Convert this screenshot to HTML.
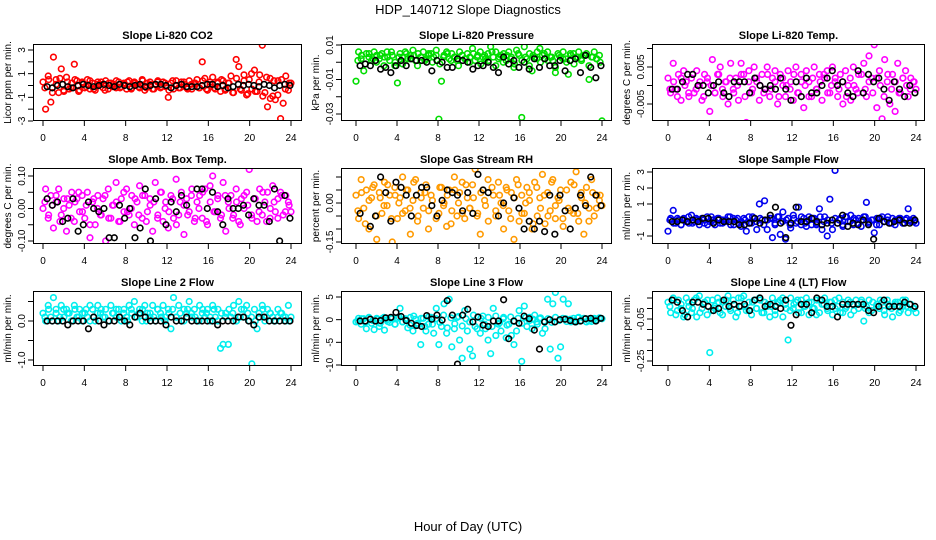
<!DOCTYPE html>
<html><head><meta charset="utf-8"><style>
html,body{margin:0;padding:0;background:#fff;}
svg{display:block;font-family:"Liberation Sans",Arial,sans-serif;}
</style></head><body>
<svg id="chart" width="936" height="540" viewBox="0 0 936 540">
<text x="468" y="14" text-anchor="middle" font-size="13">HDP_140712  Slope Diagnostics</text>
<text x="468" y="531" text-anchor="middle" font-size="13">Hour of Day (UTC)</text>
</svg>
<script>
const xTicks=[0,4,8,12,16,20,24];
const p1Title="Slope Li-820 CO2", p1Y="Licor ppm per min.";
const p1Color=[0.3,-2.0,0.8,-1.4,2.4,0.5,-0.6,1.4,-0.5,0.7,-0.3,0.2,1.8,0.4,-0.4,0.3,-0.2,0.5,-0.3,0.2,-0.4,0.3,0.1,-0.2,0.4,-0.3,0.2,0.1,-0.2,0.3,-0.1,0.2,-0.3,0.4,-0.2,0.3,0.1,-0.2,0.5,-0.4,0.2,0.3,-0.3,0.1,0.4,-0.2,0.3,-0.1,-1.0,0.2,-0.3,0.4,-0.2,0.3,0.1,-0.2,0.4,-0.3,0.2,0.5,-0.2,2.0,0.6,-0.4,0.3,0.7,-0.3,0.2,-0.5,0.4,-0.3,0.2,0.8,-0.6,2.2,1.6,-0.4,0.9,-0.8,0.5,-0.3,1.3,-0.5,0.9,3.4,-0.6,-1.8,0.6,-0.9,-1.2,0.4,-2.8,-1.5,0.8,-0.4,0.2];
const p1Color2=[-0.2,0.5,-0.6,0.1,0.6,-0.4,0.3,-0.2,0.5,-0.5,0.2,-0.1,0.4,-0.3,0.1,0.3,-0.4,0.2,-0.1,0.4,-0.2,0.1,0.3,-0.3,0.2,-0.1,0.4,-0.2,0.1,-0.3,0.3,-0.1,0.2,-0.4,0.4,0.0,-0.2,0.3,-0.3,0.1,0.2,-0.2,0.4,-0.3,0.1,-0.2,0.3,0.5,-0.4,0.2,-0.6,0.6,-0.3,0.4,-0.7,1.0,-0.5,0.3,-0.9,0.7,-1.1,0.4,-0.8,0.5,-0.3,0.2];
const p1Black=[-0.1,-0.2,0.0,0.1,-0.1,-0.2,0.0,0.1,0.0,-0.1,0.0,0.1,0.0,-0.1,0.1,0.0,-0.1,0.0,0.1,-0.1,0.0,0.1,0.1,0.0,-0.2,0.0,0.1,-0.1,-0.1,-0.1,0.0,0.1,0.1,-0.1,0.0,-0.2,-0.1,0.1,0.0,0.1,0.0,-0.1,0.1,0.0,-0.2,0.0,0.1,0.0];
const p1Ticks=[3,2,1,0,-1,-2,-3], p1Labels=["3","","1","","-1","","-3"];

const p2Title="Slope Li-820 Pressure", p2Y="kPa per min.";
const p2Color=[-0.011,0.006,0.002,-0.005,0.005,0.003,0.001,0.006,0.004,0.002,0.005,0.003,0.006,0.001,0.004,-0.002,-0.012,0.005,0.003,0.006,0.002,0.004,0.007,0.001,0.005,0.003,0.006,0.002,0.004,0.005,0.003,0.007,-0.033,-0.011,0.004,0.006,0.002,0.005,0.003,0.001,0.006,0.004,0.002,0.005,0.003,0.008,0.001,0.004,0.006,0.003,0.002,0.005,0.009,0.003,0.006,0.002,0.004,0.005,0.001,0.006,0.003,-0.003,0.007,0.004,-0.032,0.009,0.002,0.005,-0.005,0.003,0.006,0.008,0.004,0.002,0.006,0.003,0.001,-0.006,0.005,0.003,0.006,0.002,-0.007,0.004,0.005,0.003,0.006,0.002,0.004,0.005,-0.010,0.003,0.006,0.002,0.004,-0.034];
const p2Color2=[0.001,0.004,-0.001,0.005,0.002,0.000,0.004,-0.002,0.003,0.006,0.000,0.003,-0.001,0.005,0.002,0.004,-0.002,0.003,0.001,0.005,0.000,0.004,-0.001,0.003,0.005,0.001,0.003,-0.002,0.004,0.002,0.000,0.005,0.003,-0.001,0.004,0.001,0.006,-0.002,0.003,0.000,0.004,0.002,-0.001,0.005,0.001,0.003,-0.002,0.004,0.002,0.000,0.005,0.001,0.003,-0.003,0.004,0.002,0.000,0.005,-0.001,0.003,0.001,0.004,-0.002,0.003,0.002,0.000];
const p2Black=[-0.002,-0.001,-0.002,0.001,-0.004,-0.003,-0.006,-0.002,0.001,-0.002,0.002,0.001,0.001,0.000,-0.005,0.001,0.000,-0.003,-0.003,0.002,0.001,0.000,-0.004,-0.002,-0.002,0.000,-0.003,-0.006,0.003,-0.001,0.001,-0.003,0.000,-0.004,0.002,-0.003,0.002,-0.002,-0.002,0.001,-0.005,0.001,0.002,-0.006,0.004,-0.003,-0.009,-0.002];
const p2Ticks=[0.01,0,-0.01,-0.02,-0.03], p2Labels=["0.01","","-0.01","","-0.03"];

const p3Title="Slope Li-820 Temp.", p3Y="degrees C per min.";
const p3Color=[0.002,-0.002,0.006,-0.001,0.003,-0.004,0.004,0.001,-0.003,0.002,-0.002,0.004,0.000,-0.004,0.003,0.001,-0.007,0.007,-0.002,0.003,0.005,-0.003,0.001,-0.005,0.006,-0.001,0.002,-0.004,0.006,0.003,-0.010,0.004,-0.002,0.005,0.001,-0.004,0.003,-0.001,0.005,-0.003,0.002,0.004,-0.005,0.003,0.000,-0.003,0.004,0.001,-0.004,0.005,-0.002,0.003,-0.006,0.004,0.001,-0.003,0.005,-0.001,0.003,-0.004,0.002,0.004,-0.002,0.005,0.001,-0.003,0.003,-0.005,0.004,0.000,-0.004,0.005,-0.001,0.003,-0.012,0.006,-0.003,0.008,0.002,0.011,-0.006,0.004,-0.009,0.007,0.001,-0.005,0.003,-0.007,0.006,-0.002,0.002,0.004,-0.003,0.002,0.001,-0.001];
const p3Color2=[-0.001,0.001,-0.003,0.002,0.000,-0.002,0.003,-0.001,0.001,-0.003,0.002,0.000,-0.002,0.003,-0.001,0.001,0.002,-0.002,0.000,0.003,-0.003,0.001,-0.001,0.002,0.000,-0.002,0.003,-0.001,0.001,-0.003,0.002,0.000,-0.001,0.003,-0.002,0.001,0.000,-0.003,0.002,-0.001,0.001,0.003,-0.002,0.000,0.002,-0.001,0.001,-0.003,0.002,0.000,-0.002,0.003,-0.001,0.001,-0.002,0.002,0.000,-0.003,0.003,-0.001,0.001,-0.002,0.002,0.000,-0.001,0.001];
const p3Black=[-0.001,-0.001,0.001,0.003,0.003,0.000,0.000,-0.002,0.000,0.001,-0.002,-0.003,0.001,0.001,0.001,-0.002,0.002,0.000,-0.001,0.000,-0.001,0.002,-0.001,-0.004,0.001,-0.003,0.002,-0.002,-0.002,0.000,0.002,0.004,0.000,0.001,-0.002,-0.003,0.004,-0.002,0.003,0.001,0.002,-0.001,-0.004,0.001,-0.001,-0.003,0.000,-0.002];
const p3Ticks=[0.01,0.005,0,-0.005], p3Labels=["","0.005","","-0.005"];

const p4Title="Slope Amb. Box Temp.", p4Y="degrees C per min.";
const p4Color=[0.00,0.06,-0.03,0.04,-0.06,0.02,0.06,-0.02,0.03,-0.07,0.01,0.05,-0.04,0.03,-0.01,0.04,-0.03,0.05,-0.09,0.02,-0.05,0.04,-0.02,0.03,-0.10,0.06,-0.03,0.01,0.08,-0.04,0.03,-0.01,0.06,-0.02,0.04,-0.05,0.02,0.07,-0.03,0.04,-0.01,0.03,-0.07,0.08,-0.02,0.05,-0.04,0.02,-0.06,0.04,-0.03,0.09,-0.02,0.05,-0.08,0.03,-0.01,0.06,-0.04,0.02,0.04,-0.03,0.06,-0.05,0.07,0.10,-0.01,0.04,-0.03,0.08,-0.07,0.02,0.04,-0.02,0.06,-0.04,0.03,0.00,0.05,0.12,-0.03,0.03,-0.04,0.06,-0.02,0.02,0.05,-0.03,0.07,-0.01,0.03,0.05,-0.02,0.04,0.02,-0.01];
const p4Color2=[0.02,-0.02,0.01,0.04,-0.04,0.00,0.03,-0.03,0.02,0.05,-0.01,0.01,-0.05,0.03,0.00,-0.02,0.04,-0.03,0.01,0.02,-0.04,0.05,-0.01,0.00,0.03,-0.02,0.04,-0.04,0.01,0.02,-0.03,0.05,0.00,-0.01,0.03,-0.05,0.02,0.01,-0.02,0.04,-0.03,0.00,0.05,-0.04,0.02,-0.01,0.03,-0.02,0.04,0.00,-0.03,0.02,-0.05,0.04,0.01,-0.02,0.03,-0.01,0.05,-0.04,0.00,0.02,-0.03,0.04,-0.01,0.01];
const p4Black=[0.03,0.01,0.02,-0.04,-0.03,0.03,-0.07,-0.05,0.02,0.00,-0.01,0.00,-0.09,-0.09,0.01,-0.03,0.00,-0.09,-0.06,0.06,-0.10,0.03,-0.13,-0.05,0.02,-0.01,0.04,0.01,-0.13,0.06,0.06,0.00,0.05,-0.01,-0.05,0.03,0.00,0.00,0.01,-0.02,0.03,0.01,0.01,-0.04,0.06,-0.10,0.04,-0.03];
const p4Ticks=[0.10,0.05,0,-0.05,-0.10], p4Labels=["0.10","","0.00","","-0.10"];

const p5Title="Slope Gas Stream RH", p5Y="percent per min.";
const p5Color=[0.03,-0.06,0.09,-0.02,0.05,-0.10,0.02,0.07,-0.14,0.04,-0.04,0.08,-0.01,0.03,-0.15,0.06,-0.06,0.02,0.10,-0.03,0.05,-0.12,0.01,0.09,-0.05,0.04,-0.02,0.07,-0.10,0.03,0.22,-0.21,-0.04,0.06,0.00,-0.09,0.05,-0.03,0.10,-0.05,0.04,0.08,-0.06,0.02,-0.02,0.07,0.13,-0.04,-0.12,0.05,-0.01,0.09,-0.17,0.03,-0.05,0.08,0.00,-0.10,0.06,-0.03,0.04,-0.14,0.09,-0.07,0.03,-0.04,0.06,0.01,-0.10,0.08,-0.05,0.02,0.11,-0.08,0.04,-0.03,0.09,-0.06,0.02,0.05,-0.09,0.15,-0.02,0.08,-0.04,0.12,-0.07,0.04,-0.12,0.06,-0.02,0.09,-0.05,0.03,0.01,-0.01];
const p5Color2=[-0.03,0.04,-0.08,0.01,0.06,-0.05,0.02,-0.01,0.07,-0.06,0.03,0.00,-0.04,0.05,-0.02,0.08,-0.07,0.02,0.04,-0.03,0.01,-0.06,0.06,-0.01,0.03,-0.08,0.05,0.00,-0.04,0.07,-0.02,0.02,-0.05,0.04,0.01,-0.07,0.06,-0.03,0.03,-0.01,0.05,-0.06,0.02,0.07,-0.04,0.00,0.04,-0.08,0.06,-0.02,0.03,-0.05,0.08,-0.01,0.01,-0.06,0.05,-0.03,0.07,-0.04,0.02,0.00,-0.07,0.04,-0.02,0.03];
const p5Black=[-0.04,0.17,-0.09,-0.05,0.10,0.04,-0.07,0.08,0.06,0.03,-0.05,0.03,0.06,0.06,-0.01,-0.05,0.01,0.05,0.04,0.03,-0.03,0.04,-0.04,0.11,0.05,0.04,0.24,-0.05,0.00,0.25,0.02,-0.02,-0.10,-0.07,-0.10,-0.07,-0.11,0.03,-0.12,0.03,-0.03,-0.10,-0.02,0.03,-0.01,0.10,0.03,-0.01];
const p5Ticks=[0.10,0.05,0,-0.05,-0.10,-0.15], p5Labels=["","","0.00","","","-0.15"];

const p6Title="Slope Sample Flow", p6Y="ml/min per min.";
const p6Color=[-0.7,0.1,0.6,-0.2,0.0,-0.3,0.1,-0.1,-0.2,0.3,-0.1,0.0,-0.3,0.1,-0.2,0.2,-0.1,0.0,-0.3,0.1,-0.2,0.0,-0.1,0.2,-0.3,0.1,0.0,-0.2,-0.4,0.1,-0.7,0.2,-0.2,0.1,-0.6,1.0,0.0,1.2,-0.6,0.1,-1.1,-0.3,0.2,-0.9,0.5,-1.2,0.1,-0.5,0.3,-0.2,0.8,-0.3,0.1,-0.4,0.2,-0.3,0.1,-0.2,0.7,-0.6,0.2,-1.0,1.3,-0.6,3.1,-0.2,0.1,-0.4,0.2,-0.1,0.3,-0.3,0.0,0.1,-0.4,0.2,1.1,-0.2,0.0,-0.8,0.1,-0.3,0.2,-0.1,0.0,-0.2,0.1,-0.3,0.0,0.1,-0.2,0.0,0.7,-0.1,0.1,-0.2];
const p6Color2=[0.0,-0.2,0.1,-0.3,0.0,0.2,-0.2,0.1,-0.1,0.0,-0.3,0.2,-0.1,0.1,-0.2,0.0,0.2,-0.3,0.1,-0.1,0.0,-0.2,0.2,-0.1,0.1,-0.3,0.0,0.1,-0.2,0.2,-0.1,0.0,-0.3,0.1,-0.1,0.2,-0.2,0.0,0.1,-0.3,0.2,-0.1,0.0,-0.2,0.1,0.0,-0.3,0.2,-0.1,0.1,-0.2,0.0,0.2,-0.1,0.0,-0.3,0.1,-0.1,0.2,-0.2,0.0,0.1,-0.2,0.1,0.0,-0.1];
const p6Black=[-0.1,-0.1,0.0,-0.1,0.0,-0.1,0.1,0.1,-0.2,0.0,-0.1,-0.1,-0.1,-0.3,-0.3,-0.2,0.1,-0.2,0.0,0.3,0.8,-0.2,-1.1,-0.2,0.8,-0.1,-0.1,0.1,-0.1,-0.3,-0.2,0.0,-0.2,0.3,-0.4,-0.2,-0.3,0.0,-0.3,-1.2,0.1,-0.1,-0.2,-0.1,0.0,-0.2,-0.2,0.0];
const p6Ticks=[3,2,1,0,-1], p6Labels=["3","2","1","","-1"];

const p7Title="Slope Line 2 Flow", p7Y="ml/min per min.";
const p7Color=[0.2,0.0,0.4,0.1,0.6,0.3,0.0,0.4,0.1,0.3,0.2,0.0,0.4,0.1,0.3,0.0,0.2,0.1,0.4,0.3,0.0,0.4,0.2,0.1,0.3,0.0,0.4,0.2,0.1,0.3,0.0,0.3,0.1,0.4,0.2,0.5,0.1,0.3,0.0,0.4,0.2,0.1,0.4,0.0,0.3,0.2,0.4,0.1,0.3,-0.2,0.6,0.1,0.4,0.0,0.3,0.2,0.5,0.1,0.3,0.0,0.4,0.2,0.1,0.3,0.0,0.4,0.1,0.3,-0.7,-0.6,0.2,-0.6,0.1,0.4,0.0,0.5,0.3,0.1,0.4,0.0,-1.1,0.3,-0.2,0.1,0.4,0.0,0.3,0.2,0.1,0.0,0.3,0.2,0.1,0.0,0.4,0.1];
const p7Color2=[0.1,0.3,0.0,0.2,0.1,0.3,0.2,0.0,0.3,0.1,0.2,0.3,0.0,0.1,0.2,0.3,0.1,0.0,0.2,0.3,0.1,0.2,0.0,0.3,0.1,0.2,0.3,0.0,0.2,0.1,0.3,0.1,0.0,0.2,0.3,0.1,0.2,0.0,0.3,0.2,0.1,0.0,0.3,0.2,0.1,0.3,0.0,0.2,0.1,0.3,0.2,0.0,0.1,0.3,0.2,0.1,0.0,0.2,0.3,0.1,0.2,0.0,0.1,0.2,0.1,0.0];
const p7Black=[0.0,0.0,0.0,0.0,-0.1,0.0,0.0,0.0,-0.2,0.1,0.0,-0.1,0.0,0.0,0.1,0.0,-0.1,0.1,0.2,0.1,0.0,0.0,0.0,-0.1,0.1,0.0,0.0,0.1,0.0,0.0,0.0,0.0,0.0,-0.1,0.0,0.0,0.0,0.1,0.1,0.0,-0.1,0.1,0.1,0.0,0.0,0.0,0.0,0.0];
const p7Ticks=[0.5,0,-0.5,-1.0], p7Labels=["","0.0","","-1.0"];

const p8Title="Slope Line 3 Flow", p8Y="ml/min per min.";
const p8Color=[-0.5,0.3,-1.0,0.2,-2.0,0.5,-0.8,-2.2,0.3,-1.5,0.2,-2.3,0.0,-0.6,0.4,-1.0,0.3,2.5,-0.5,0.2,-1.8,0.5,-2.5,0.1,-1.2,-5.5,0.3,-2.5,-1.0,0.5,-3.0,2.5,-5.5,-1.5,3.5,-3.0,4.5,-6.0,-2.0,0.5,-4.5,-8.5,2.0,-2.5,-6.5,-8.0,-1.5,0.5,-3.0,0.8,-2.0,-4.5,-7.5,2.5,-3.5,-1.0,-2.5,0.5,-4.0,-1.0,-3.5,-5.5,-2.5,2.0,-9.2,3.0,-1.5,0.5,-2.0,1.0,-1.0,0.2,-3.0,-2.0,4.5,-6.5,3.5,6.0,-8.5,-6.0,4.5,0.2,3.5,-0.5,0.3,-0.5,0.5,-0.2,0.3,-0.5,0.2,-0.4,0.3,0.0,0.4,0.2];
const p8Color2=[-0.3,0.2,-0.6,0.4,-0.2,0.1,-0.8,0.5,-0.4,0.2,-1.0,0.6,-0.5,0.0,-1.2,0.8,-0.8,0.3,-1.5,0.6,-1.0,0.2,-0.6,1.0,-1.8,0.4,-0.9,0.7,-1.4,0.2,-0.5,1.0,-2.0,0.3,-1.0,0.5,-1.5,0.8,-0.7,0.2,-1.2,0.6,-0.4,0.3,-0.8,0.5,-0.2,0.1,-0.5,0.4,-0.3,0.2,-0.6,0.5,-0.2,0.3,-0.4,0.1,-0.3,0.4,-0.2,0.2,-0.3,0.1,-0.2,0.3];
const p8Black=[-0.3,-0.3,0.1,-0.3,-0.2,0.4,0.5,1.6,0.7,-0.2,-0.8,-1.3,-1.5,0.9,0.1,1.0,-0.1,4.2,1.0,-9.8,1.0,2.3,-0.5,0.6,-1.2,-1.5,-0.3,-0.3,4.4,-4.2,-0.3,-0.8,0.8,0.2,-2.3,-6.5,-0.5,0.0,-0.5,0.0,0.1,-0.2,-0.5,-0.3,0.2,0.3,-0.3,0.3];
const p8Ticks=[5,0,-5,-10], p8Labels=["5","0","-5","-10"];

const p9Title="Slope Line 4 (LT) Flow", p9Y="ml/min per min.";
const p9Color=[0.03,-0.02,0.05,-0.03,0.04,0.00,-0.04,0.05,0.01,-0.02,0.04,-0.04,0.06,0.00,0.03,-0.03,-0.21,0.04,0.00,0.05,-0.02,0.03,0.01,0.06,-0.01,0.04,-0.04,0.05,0.01,0.06,-0.01,0.03,-0.03,0.04,0.00,0.05,-0.02,0.03,0.01,-0.04,0.05,-0.01,0.03,0.04,-0.04,0.02,-0.15,0.05,0.00,0.03,-0.02,0.04,0.01,0.05,-0.03,0.03,0.00,0.04,-0.02,0.02,0.05,0.00,0.03,-0.03,0.04,0.01,-0.02,0.03,0.00,0.04,-0.03,0.02,0.04,0.00,0.03,-0.06,0.01,0.04,-0.01,-0.29,0.02,0.00,0.03,-0.03,0.04,0.01,-0.04,0.02,0.03,-0.01,0.01,0.04,-0.02,0.02,0.00,-0.02];
const p9Color2=[0.01,0.04,-0.01,0.02,-0.03,0.03,0.00,0.05,-0.02,0.02,0.04,-0.01,0.01,0.03,-0.03,0.04,0.00,0.02,-0.02,0.05,0.01,-0.01,0.03,0.00,0.04,-0.02,0.02,0.01,-0.03,0.03,0.05,0.00,-0.01,0.02,0.04,-0.02,0.01,0.03,0.00,-0.03,0.04,0.02,-0.01,0.03,0.00,0.05,-0.02,0.01,0.03,-0.01,0.02,0.04,0.00,-0.02,0.03,0.01,0.04,-0.01,0.02,0.00,0.03,-0.02,0.04,0.01,0.02,0.00];
const p9Black=[0.04,0.03,-0.01,-0.04,0.03,0.03,0.02,0.01,-0.01,0.00,0.04,0.01,0.02,0.01,0.02,-0.01,0.04,0.05,0.01,0.02,0.01,0.00,0.04,-0.08,-0.03,0.02,0.02,-0.02,0.05,0.04,0.01,0.01,-0.04,0.02,0.02,0.02,0.02,0.02,-0.01,-0.02,0.01,0.04,0.01,0.01,0.01,0.03,0.02,0.01];
const p9Ticks=[0.05,0,-0.05,-0.10,-0.15,-0.20,-0.25], p9Labels=["","","-0.05","","","","-0.25"];

const colX=[{l:33,r:302,x0:43,x24:291},{l:341,r:612,x0:356,x24:602},{l:652,r:925,x0:668,x24:916}];
const rowY=[{t:44,b:121},{t:168,b:244},{t:291,b:366}];
const panels=[
 {t:p1Title,y:p1Y,c:p1Color,c2:p1Color2,k:p1Black,ticks:p1Ticks,labels:p1Labels,col:"#ff0000",ref:[3,50,-3,121]},
 {t:p2Title,y:p2Y,c:p2Color,c2:p2Color2,k:p2Black,ticks:p2Ticks,labels:p2Labels,col:"#00dd00",ref:[0.01,45,-0.03,114]},
 {t:p3Title,y:p3Y,c:p3Color,c2:p3Color2,k:p3Black,ticks:p3Ticks,labels:p3Labels,col:"#ff00ff",ref:[0.005,67,-0.005,104]},
 {t:p4Title,y:p4Y,c:p4Color,c2:p4Color2,k:p4Black,ticks:p4Ticks,labels:p4Labels,col:"#ff00ff",ref:[0.10,176,-0.10,241]},
 {t:p5Title,y:p5Y,c:p5Color,c2:p5Color2,k:p5Black,ticks:p5Ticks,labels:p5Labels,col:"#ff9a00",ref:[0,203,-0.15,242]},
 {t:p6Title,y:p6Y,c:p6Color,c2:p6Color2,k:p6Black,ticks:p6Ticks,labels:p6Labels,col:"#0000ee",ref:[3,172,-1,236]},
 {t:p7Title,y:p7Y,c:p7Color,c2:p7Color2,k:p7Black,ticks:p7Ticks,labels:p7Labels,col:"#00eeee",ref:[0,321,-1,360]},
 {t:p8Title,y:p8Y,c:p8Color,c2:p8Color2,k:p8Black,ticks:p8Ticks,labels:p8Labels,col:"#00eeee",ref:[5,297,-10,365]},
 {t:p9Title,y:p9Y,c:p9Color,c2:p9Color2,k:p9Black,ticks:p9Ticks,labels:p9Labels,col:"#00eeee",ref:[-0.05,319,-0.25,361]}
];
const NS="http://www.w3.org/2000/svg";
const svg=document.getElementById("chart");
function mk(tag,attrs,parent){const e=document.createElementNS(NS,tag);for(const a in attrs)e.setAttribute(a,attrs[a]);parent.appendChild(e);return e;}
panels.forEach((p,i)=>{
 const cx=colX[i%3], ry=rowY[Math.floor(i/3)];
 const g=mk("g",{},svg);
 
 
 const xs=h=>cx.x0+(cx.x24-cx.x0)*h/24;
 const ys=v=>p.ref[1]+(v-p.ref[0])*(p.ref[3]-p.ref[1])/(p.ref[2]-p.ref[0]);
 const clip="clip"+i;
 const cp=mk("clipPath",{id:clip},g); mk("rect",{x:cx.l,y:ry.t,width:cx.r-cx.l,height:ry.b-ry.t},cp);
 const tt=mk("text",{x:(cx.l+cx.r)/2,y:ry.t-5,"text-anchor":"middle","font-size":"11","font-weight":"bold"},g);
 tt.textContent=p.t;
 
 
 const yl=mk("text",{transform:`translate(${cx.l-22},${(ry.t+ry.b)/2}) rotate(-90)`,"text-anchor":"middle","font-size":"10"},g);
 yl.textContent=p.y;
 
 
 const pts=mk("g",{"clip-path":`url(#${clip})`,fill:"none","stroke-width":"1.6"},g);
 const n=p.c.length, n2=p.c2.length;
 p.c.forEach((v,j)=>{const c=mk("circle",{cx:xs(j*24/(n-1)),cy:ys(v),r:2.8,stroke:p.col},pts);
  
  });
 p.c2.forEach((v,j)=>{const c=mk("circle",{cx:xs((j+0.5)*24/n2),cy:ys(v),r:2.8,stroke:p.col},pts);
  
  });
 p.k.forEach((v,j)=>{const c=mk("circle",{cx:xs((j+1)*0.5-0.1),cy:ys(v),r:2.8,stroke:"#000"},pts);
  
  });
 const box=mk("rect",{x:cx.l+0.5,y:ry.t+0.5,width:cx.r-cx.l-1,height:ry.b-ry.t-1,fill:"none",stroke:"#000","stroke-width":"1"},g);
 
 
 xTicks.forEach(h=>{const x=xs(h);
  mk("line",{x1:x,x2:x,y1:ry.b,y2:ry.b+5,stroke:"#000"},g);
  const t=mk("text",{x:x,y:ry.b+20,"text-anchor":"middle","font-size":"10"},g);t.textContent=h;
  
  });
 p.ticks.forEach((v,j)=>{const y=ys(v);
  mk("line",{x1:cx.l-5,x2:cx.l,y1:y,y2:y,stroke:"#000"},g);
  if(p.labels[j]){const t=mk("text",{transform:`translate(${cx.l-8},${y}) rotate(-90)`,"text-anchor":"middle","font-size":"10"},g);t.textContent=p.labels[j];
   
   }});
});
</script>
</body></html>
